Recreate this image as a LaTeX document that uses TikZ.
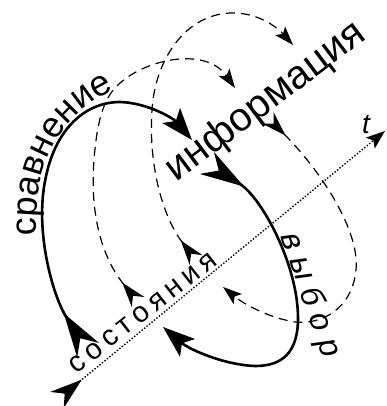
\documentclass[tikz,border=0pt]{standalone}
\usepackage{fontspec}
\setmainfont{Liberation Sans}
\newfontfamily\spacedfont[LetterSpace=18]{Liberation Sans}
\newfontfamily\widefont[LetterSpace=28]{Liberation Sans}
\usetikzlibrary{arrows.meta, decorations.text}

\tikzset{
  turn/.style={line width=2.6pt,
    {Stealth[reversed,length=44pt,width=26pt,inset=14pt]}-{Stealth[length=32pt,width=23pt,inset=7pt]}},
  turndash/.style={line width=1.2pt, dash pattern=on 9pt off 6pt,
    {Stealth[reversed,length=25pt,width=16pt,inset=8pt]}-{Stealth[length=19pt,width=13pt,inset=4pt]}},
  timeaxis/.style={line width=1.4pt, dash pattern=on 1.4pt off 1.8pt,
    {Stealth[reversed,length=32pt,width=21pt,inset=10pt]}-{Stealth[length=19pt,width=14pt,inset=4pt]}},
  bigword/.style={font=\fontsize{40}{40}\selectfont, inner sep=0pt},
  smallword/.style={font=\spacedfont\fontsize{29}{29}\selectfont, inner sep=0pt},
  tiltword/.style={font=\widefont\itshape\fontsize{32}{32}\selectfont, inner sep=0pt},
}

\begin{document}
\begin{tikzpicture}[x=1pt, y=-1pt]
  \useasboundingbox (0,0) rectangle (386,406);

  % Time axis
  \draw[timeaxis] (57,400) -- (385,131);
  \node[font=\itshape\fontsize{28}{28}\selectfont, inner sep=0pt] (t) at (366,125) {t};

  % Dashed turns, left halves
  \draw[turndash] (138,302) .. controls (100,255) and (90,210) .. (94,160)
    .. controls (97,120) and (104,100) .. (115,88)
    .. controls (140,60) and (205,45) .. (235,88);
  \draw[turndash] (196,260) .. controls (165,220) and (148,170) .. (152,110)
    .. controls (155,60) and (185,15) .. (230,13)
    .. controls (255,12) and (275,25) .. (293,45);

  % Dashed turn, right half
  \draw[turndash] (268,118) .. controls (320,170) and (360,230) .. (356,270)
    .. controls (352,310) and (320,325) .. (295,322)
    .. controls (270,318) and (245,305) .. (223,287);

  % Solid turn
  \draw[turn] (88,350) .. controls (55,300) and (38,245) .. (43,195)
    .. controls (50,130) and (85,102) .. (120,102)
    .. controls (150,103) and (175,120) .. (192,140);
  \draw[turn] (207,163) .. controls (262,198) and (298,265) .. (298,318)
    .. controls (298,355) and (280,366) .. (255,366)
    .. controls (225,365) and (190,350) .. (163,327);

  % Labels
  \path[decorate, decoration={text along path, text align=center,
    text={|\fontsize{36}{36}\selectfont|сравнение}}]
    (37,235) .. controls (33,170) and (55,118) .. (114,90);
  \node[bigword, rotate=37] (info) at (266,102) {информация};
  \node[smallword, rotate=38] (state) at (143,313) {состояния};
  \node[tiltword, rotate=-71] (choice) at (310,295) {выбор};
\end{tikzpicture}
\end{document}
